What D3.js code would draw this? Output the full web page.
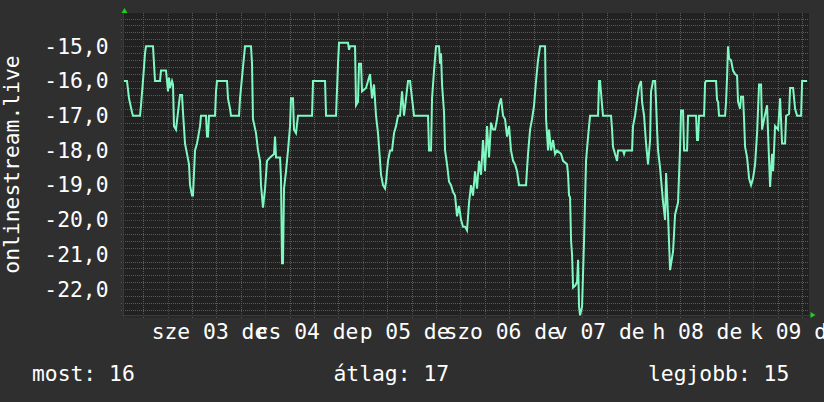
<!DOCTYPE html>
<html><head><meta charset="utf-8">
<script src="https://cdn.jsdelivr.net/npm/d3@7"></script>
<style>html,body{margin:0;padding:0;background:#2f2f2f;}svg{display:block;}</style>
</head><body><svg id="c" width="824" height="402"></svg>
<script>
// hours since graph start, and the plotted value (negative rank)
const hours = [0.0,0.74,1.23,1.97,2.21,3.94,4.18,4.67,5.17,5.41,7.13,7.63,8.86,9.10,10.33,10.58,10.82,11.07,11.32,11.81,12.05,12.30,12.79,13.28,13.78,14.27,14.51,15.01,15.50,15.99,16.24,16.73,16.97,17.47,17.96,18.70,18.94,20.17,20.42,20.66,20.91,22.39,22.63,22.88,25.34,25.58,26.08,26.32,28.29,28.54,29.27,29.77,31.24,31.49,31.73,32.47,32.96,33.46,33.70,34.19,34.69,35.18,35.92,36.90,37.15,37.39,38.38,38.62,38.87,39.11,39.36,39.85,40.34,40.84,41.08,41.57,41.82,42.31,42.80,43.30,46.25,46.50,49.45,49.70,52.15,52.64,52.89,55.10,55.35,55.60,56.83,57.07,57.56,57.81,58.30,58.55,59.53,60.02,60.52,61.01,61.50,61.99,62.48,62.98,63.22,63.71,64.21,64.45,64.94,65.44,65.93,66.42,66.91,67.40,67.90,68.39,68.88,69.37,69.86,70.36,70.85,71.34,74.78,75.03,75.52,75.77,76.26,76.75,77.49,77.74,77.98,78.23,78.72,78.97,79.46,79.95,80.44,80.94,81.43,81.92,82.41,82.90,83.39,83.89,84.38,84.87,85.36,85.85,86.35,86.84,87.33,87.82,88.31,88.81,89.30,89.79,90.28,90.77,91.27,91.76,92.25,92.74,93.23,93.73,94.22,94.71,95.20,95.70,96.19,96.68,97.17,98.89,99.38,99.88,100.37,100.86,101.35,101.84,102.34,103.57,103.82,104.31,104.55,105.04,105.54,106.03,106.52,107.50,108.00,108.98,109.23,109.47,109.72,109.97,110.21,110.46,110.95,111.44,111.69,111.93,112.18,112.67,113.16,113.65,114.15,114.64,116.60,116.85,117.10,117.59,117.83,119.80,120.05,120.29,120.78,121.28,121.52,122.75,123.00,123.25,124.97,125.21,125.71,126.20,126.69,127.18,127.43,127.92,128.41,128.90,129.40,129.64,130.14,130.63,130.87,131.12,131.36,131.86,132.60,133.09,133.34,133.83,134.32,135.06,135.55,136.28,136.78,137.02,137.51,137.76,138.50,138.74,140.71,140.96,141.20,141.45,142.68,142.93,143.17,145.63,145.88,146.12,146.37,147.85,148.09,148.34,148.58,148.83,149.32,149.81,150.31,150.80,151.04,151.54,151.78,152.27,152.52,152.77,153.26,153.75,154.24,154.73,155.23,155.72,156.21,156.70,156.95,157.44,158.18,158.42,158.92,159.41,159.66,160.15,160.89,161.38,161.87,162.61,162.86,163.59,163.84,164.58,165.07,165.56,166.55,166.80,168.0];
const values = [-16,-16,-16.5,-16.9,-17,-17,-16.7,-16,-15.2,-15,-15,-16,-16,-15.7,-15.7,-16,-16.3,-15.9,-16.2,-16,-16.1,-17.3,-17.4,-16.9,-16.4,-16.4,-16.9,-17.8,-18.1,-18.4,-19,-19.3,-19.3,-18,-17.8,-17.3,-17,-17,-17.6,-17.6,-17,-17,-16.3,-16,-16,-16.5,-16.8,-17,-17,-16.5,-15.6,-15,-15,-15.5,-17.1,-17.5,-18,-18.3,-19,-19.65,-19.1,-18.3,-18.2,-18.1,-17.6,-18.2,-18.2,-18.8,-21.25,-21.25,-19.1,-18.6,-18,-17.3,-16.5,-16.5,-17.4,-17.5,-17,-17,-17,-16,-16,-17,-17,-15.5,-14.9,-14.9,-15.1,-15,-15,-16.7,-16.6,-15.5,-15.5,-16.3,-16.2,-16,-15.8,-16.5,-16.1,-17,-17.5,-18.3,-18.7,-19,-19.1,-18.9,-18.3,-18,-18,-17.5,-17.3,-17,-17,-16.3,-17,-16.5,-16,-16,-16.5,-17,-17,-18,-18,-16.5,-15.7,-15,-15,-15.5,-15.2,-16.1,-16.9,-18,-18.4,-18.9,-19,-19.2,-19.3,-19.9,-19.6,-20,-20.2,-20.2,-20.3,-19.5,-19,-19.3,-18.6,-19.1,-18.3,-18.7,-17.7,-18.6,-17.3,-18.2,-17.2,-17.4,-17.4,-17.1,-16.7,-16.5,-17,-17.1,-17.6,-17.3,-18,-18.3,-18.4,-18.6,-19,-19,-18.1,-17.4,-17.1,-16.7,-16,-15.4,-15,-15,-17.1,-18,-17.4,-18,-17.7,-18.1,-18,-18.1,-18.3,-18.4,-18.7,-19.3,-19.35,-20.6,-21,-21.95,-21.9,-21.8,-21.15,-22.5,-22.75,-22.5,-20.6,-18.3,-17.6,-17,-17,-16,-16,-16.7,-17,-17,-17.4,-17.9,-18.1,-18.3,-18,-18,-18.1,-18,-18,-17.3,-17,-16.55,-16.15,-16,-16.6,-17,-17.8,-18.4,-17.7,-16.3,-16,-16,-16.6,-17.4,-18,-18.5,-19.5,-20,-18.65,-19.9,-21.45,-20.9,-19.85,-19.5,-17.9,-16.85,-16.85,-18,-18,-17,-17,-17.7,-17.7,-17,-17,-16.05,-16,-16,-16.55,-16.6,-17,-17,-16.6,-15.9,-15,-15.35,-15.4,-15.7,-15.8,-15.85,-16.6,-16.8,-16.45,-16.45,-17.1,-17.9,-18.2,-18.8,-19,-18.8,-18.4,-17.5,-16.1,-16.1,-17.4,-17.1,-16.7,-17.5,-19.05,-18.1,-18.6,-17.3,-17.4,-16.5,-17.8,-17.8,-17,-16.95,-16.2,-16.2,-16.8,-17,-17,-16,-16];
const yTicks = [-15,-16,-17,-18,-19,-20,-21,-22];
const dayLabels = ["sze 03 de","cs 04 de","p 05 de","szo 06 de","v 07 de","h 08 de","k 09 de"];
const legendLabels = ["most:","átlag:","legjobb:"];
const legendValues = ["16","17","15"];
const yTitle = "onlinestream.live";
const startTime = new Date(2025, 8, 2, 13, 15);
const spanHours = 168;

const svg = d3.select("#c");
const FONT = "'DejaVu Sans Mono', monospace";
const FS = "21.33px";
const plot = {l:124, r:809, t:13, b:315};
const endTime = new Date(+startTime + spanHours*3600e3);
const x = d3.scaleTime().domain([startTime, endTime]).range([124, 807]);
const y = d3.scaleLinear().domain([-15, -22]).range([46.3, 289.3]);

svg.append("rect").attr("width",824).attr("height",402).attr("fill","#2f2f2f");
svg.append("rect").attr("x",plot.l).attr("y",plot.t).attr("width",plot.r-plot.l).attr("height",plot.b-plot.t).attr("fill","#212121");
svg.append("rect").attr("x",plot.l-3).attr("y",plot.b).attr("width",plot.r-plot.l+3).attr("height",3).attr("fill","#292929");

// horizontal grid
const minorY = d3.range(71, 114).map(i => -i/5).filter(v => Math.abs(v - Math.round(v)) > 1e-6);
svg.append("g").selectAll("line").data(minorY).join("line")
  .attr("x1",plot.l-3).attr("x2",plot.r).attr("y1",d=>Math.round(y(d))+0.5).attr("y2",d=>Math.round(y(d))+0.5)
  .attr("stroke","#5a5a5a").attr("stroke-width",1).attr("stroke-dasharray","1,1");
// vertical grid
const vTicks = d3.timeHour.every(6).range(startTime, endTime);
svg.append("g").selectAll("line").data(vTicks.filter(d=>d.getHours()!==0)).join("line")
  .attr("x1",d=>Math.round(x(d))+0.5).attr("x2",d=>Math.round(x(d))+0.5).attr("y1",plot.t).attr("y2",plot.b+3)
  .attr("stroke","#5a5a5a").attr("stroke-width",1).attr("stroke-dasharray","1,1");
svg.append("g").selectAll("line").data(yTicks).join("line")
  .attr("x1",plot.l-3).attr("x2",plot.r).attr("y1",d=>Math.round(y(d))+0.5).attr("y2",d=>Math.round(y(d))+0.5)
  .attr("stroke","#7a3434").attr("stroke-width",1).attr("stroke-dasharray","1,1");
svg.append("g").selectAll("line").data(vTicks.filter(d=>d.getHours()===0)).join("line")
  .attr("x1",d=>Math.round(x(d))+0.5).attr("x2",d=>Math.round(x(d))+0.5).attr("y1",plot.t).attr("y2",plot.b+3)
  .attr("stroke","#7a3434").attr("stroke-width",1).attr("stroke-dasharray","1,1");

// axes lines
svg.append("line").attr("x1",plot.l-0.5).attr("x2",plot.l-0.5).attr("y1",plot.t).attr("y2",plot.b+3).attr("stroke","#3a3a3a");
svg.append("line").attr("x1",plot.l-3).attr("x2",plot.r+3).attr("y1",plot.b+0.5).attr("y2",plot.b+0.5).attr("stroke","#3a3a3a");

// arrows
svg.append("path").attr("d",`M${plot.l-2.5},${plot.t}L${plot.l+0.5},${plot.t-5}L${plot.l+3.5},${plot.t}Z`).attr("fill","#1ed01e");
svg.append("path").attr("d",`M${plot.r+1.5},${plot.b-3}L${plot.r+6.5},${plot.b}L${plot.r+1.5},${plot.b+3}Z`).attr("fill","#1ed01e");

// data line
const data = hours.map((h,i)=>({t:new Date(+startTime + h*3600e3), v:values[i]}));
svg.append("path").datum(data)
  .attr("d", d3.line().x(d=>x(d.t)).y(d=>y(d.v)))
  .attr("fill","none").attr("stroke","#7ff8c2").attr("stroke-width",2).attr("stroke-linejoin","miter");

// y labels
svg.append("g").selectAll("text").data(yTicks).join("text")
  .attr("x",108.5).attr("y",d=>y(d)+7.2).attr("text-anchor","end")
  .attr("font-family",FONT).attr("font-size",FS).attr("fill","#ffffff")
  .text(d=>d3.format(".1f")(d).replace(".",",").replace("−","-"));

// x labels at noon
const noons = d3.timeDay.range(startTime, endTime).map(d=>new Date(+d + 12*3600e3));
svg.append("g").selectAll("text").data(dayLabels).join("text")
  .attr("x",(d,i)=>x(noons[i])-7).attr("y",339).attr("text-anchor","middle")
  .attr("font-family",FONT).attr("font-size",FS).attr("fill","#ffffff")
  .text(d=>d);

// y title
svg.append("text").attr("transform","translate(18.5,164.5) rotate(-90)").attr("text-anchor","middle")
  .attr("font-family",FONT).attr("font-size",FS).attr("fill","#ffffff").text(yTitle);

// legend
const legendX = [32, 333.5, 648];
svg.append("g").selectAll("text").data(legendLabels).join("text")
  .attr("x",(d,i)=>legendX[i]).attr("y",380.5)
  .attr("font-family",FONT).attr("font-size",FS).attr("fill","#ffffff").attr("xml:space","preserve")
  .text((d,i)=>d+" "+legendValues[i]);
</script></body></html>
